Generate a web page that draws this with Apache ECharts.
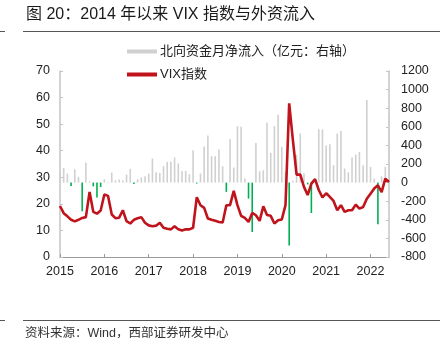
<!DOCTYPE html>
<html><head><meta charset="utf-8">
<script src="https://cdn.jsdelivr.net/npm/echarts@6/dist/echarts.min.js"></script>
<style>html,body{margin:0;padding:0;background:#fff;}#c{width:446px;height:356px;}</style>
</head><body><div id="c"></div>
<script>
// Monthly categories 2015-01 .. 2022-06
var months = [];
for (var y = 2015; y <= 2022; y++) {
  for (var m = 1; m <= 12; m++) {
    if (y === 2022 && m > 6) break;
    months.push(y + '-' + (m < 10 ? '0' + m : '' + m));
  }
}
// VIX index (monthly, left axis)
var vix = [
  19.2,16.5,15.3,14.0,13.4,14.0,14.7,15.0,24.5,17.0,
  16.3,17.5,23.5,23.0,16.0,14.6,14.8,17.6,13.5,12.6,
  14.0,14.6,15.0,12.9,11.9,11.6,11.8,12.9,11.0,10.6,
  10.4,11.6,10.4,10.0,10.4,10.4,11.0,22.5,19.5,18.5,
  14.5,14.0,13.6,13.2,13.0,19.5,19.5,24.9,19.5,15.5,
  14.7,13.2,16.6,15.7,13.6,19.1,15.8,15.5,12.6,13.8,
  14.1,19.5,57.8,44.0,31.0,31.0,26.4,23.3,27.6,29.3,
  25.2,22.4,24.0,22.6,21.1,17.6,19.5,17.0,17.6,17.6,
  19.7,18.2,18.8,21.9,23.8,25.8,27.0,24.4,29.5,28.2
];
// Northbound monthly net inflow (100m CNY, right axis)
var northbound = [
  115,158,97,-36,144,61,-308,215,14,-40,
  -161,-47,36,8,108,25,32,22,86,147,
  -14,36,54,68,97,258,111,104,176,223,
  223,269,205,126,126,90,348,-10,97,388,
  506,284,284,355,176,-100,467,162,607,600,
  43,-172,-531,427,122,133,646,320,607,732,
  384,115,-675,20,300,528,97,-20,-327,30,
  574,571,398,413,187,528,556,151,111,269,
  301,330,187,887,169,43,-449,68,169,725
];
var leftTicks = {min: 0, max: 70, interval: 10};
var rightTicks = {min: -800, max: 1200, interval: 200};
var seriesNames = ['北向资金月净流入（亿元：右轴）', 'VIX指数'];
var titleText = '图 20：2014 年以来 VIX 指数与外资流入';
var sourceText = '资料来源：Wind，西部证券研发中心';

var FONT = '"Liberation Sans", "Noto Sans CJK SC", sans-serif';
var chart = echarts.init(document.getElementById('c'), null, {renderer: 'canvas'});
var isJan = function (idx, val) { return /-01$/.test(val); };
chart.setOption({
  animation: false,
  textStyle: {fontFamily: FONT},
  grid: {left: 60, right: 57, top: 71, bottom: 99, containLabel: false},
  legend: {
    orient: 'vertical', left: 122, top: 40, itemGap: 10,
    itemWidth: 30, itemHeight: 4,
    textStyle: {fontSize: 13, color: '#222', fontFamily: FONT, padding: [0,0,0,-2]},
    data: [
      {name: seriesNames[0], icon: 'rect', itemStyle: {color: '#d0d0d0'}},
      {name: seriesNames[1], icon: 'rect', itemStyle: {color: '#c0141c'}}
    ]
  },
  xAxis: {
    type: 'category', data: months, boundaryGap: false,
    axisLine: {lineStyle: {color: '#9a9a9a', width: 1}},
    axisTick: {inside: true, length: 3, interval: isJan, lineStyle: {color: '#9a9a9a'}},
    axisLabel: {interval: isJan, formatter: function (v) { return v.slice(0, 4); },
      fontSize: 12.5, color: '#222', margin: 8}
  },
  yAxis: [
    {type: 'value', min: leftTicks.min, max: leftTicks.max, interval: leftTicks.interval,
      axisLine: {show: true, lineStyle: {color: '#c4c4c4', width: 1.5}},
      axisTick: {show: true, inside: true, length: 3, lineStyle: {color: '#c4c4c4'}},
      splitLine: {show: false},
      axisLabel: {fontSize: 12.5, color: '#222', margin: 10}},
    {type: 'value', min: rightTicks.min, max: rightTicks.max, interval: rightTicks.interval, position: 'right',
      axisLine: {show: true, lineStyle: {color: '#c4c4c4', width: 1.5}},
      axisTick: {show: true, inside: true, length: 3, lineStyle: {color: '#c4c4c4'}},
      splitLine: {show: false},
      axisLabel: {fontSize: 12.5, color: '#222', margin: 12, formatter: function (v) { return String(v); }}}
  ],
  series: [
    {name: seriesNames[0], type: 'bar', yAxisIndex: 1, data: northbound, barWidth: 1.6,
      itemStyle: {color: function (p) { return p.value < 0 ? '#00b050' : '#d0d0d0'; }}},
    {name: seriesNames[1], type: 'line', yAxisIndex: 0, data: vix, symbol: 'none', z: 5,
      lineStyle: {color: '#c0141c', width: 2.6}, itemStyle: {color: '#c0141c'}}
  ],
  graphic: [
    {type: 'text', left: 26, top: 7, style: {text: titleText, font: '16px "Liberation Sans", "Noto Sans CJK SC", sans-serif', fill: '#1a1a1a'}},
    {type: 'line', shape: {x1: 23, y1: 31.5, x2: 440, y2: 31.5}, style: {stroke: '#555', lineWidth: 1}},
    {type: 'line', shape: {x1: 0, y1: 31.5, x2: 5, y2: 31.5}, style: {stroke: '#555', lineWidth: 1}},
    {type: 'line', shape: {x1: 23, y1: 320.5, x2: 440, y2: 320.5}, style: {stroke: '#555', lineWidth: 1}},
    {type: 'line', shape: {x1: 0, y1: 320.5, x2: 5, y2: 320.5}, style: {stroke: '#555', lineWidth: 1}},
    {type: 'text', left: 25, top: 327, style: {text: sourceText, font: '12.5px "Liberation Sans", "Noto Sans CJK SC", sans-serif', fill: '#333'}}
  ]
});
</script></body></html>
